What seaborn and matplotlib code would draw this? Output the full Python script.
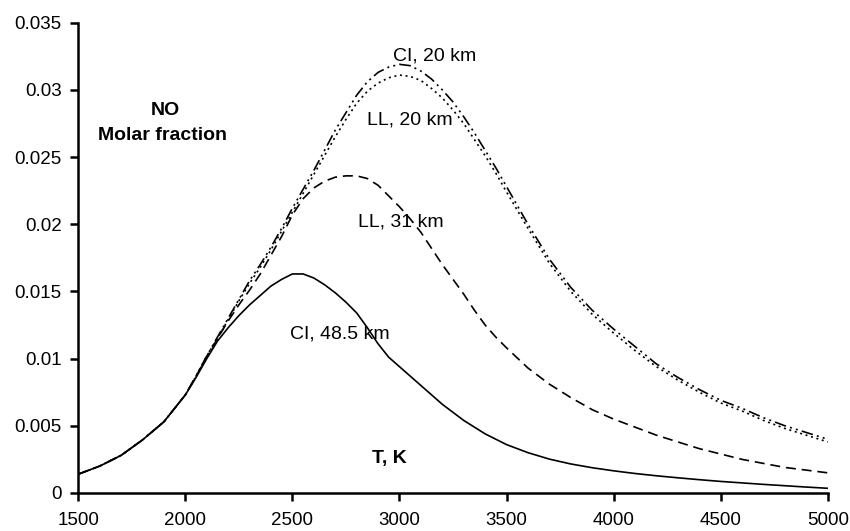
import matplotlib
matplotlib.use("Agg")
import matplotlib.pyplot as plt
import seaborn as sns
import pandas as pd

# Temperature grid, K (finer around the maxima)
temperature = [1500, 1600, 1700, 1800, 1900,
               2000, 2050, 2100, 2150, 2200, 2250, 2300, 2350, 2400, 2450,
               2500, 2550, 2600, 2650, 2700, 2750, 2800, 2850, 2900, 2950,
               3000, 3050, 3100, 3150, 3200, 3250, 3300, 3350, 3400, 3450,
               3500, 3600, 3700, 3800, 3900, 4000, 4100, 4200, 4300, 4400,
               4500, 4600, 4700, 4800, 4900, 5000]

# NO molar fraction for each case
ci_20 = [0.0014, 0.0020, 0.0028, 0.00395, 0.0053,
         0.0073, 0.0087, 0.0102, 0.0116, 0.0130, 0.0144, 0.0158, 0.0170, 0.0183, 0.0197,
         0.0212, 0.0226, 0.0240, 0.0255, 0.0270, 0.0283, 0.0296, 0.0306, 0.0313, 0.0317,
         0.0319, 0.0318, 0.0314, 0.0308, 0.0300, 0.0291, 0.0280, 0.0268, 0.0255, 0.0242,
         0.0228, 0.0200, 0.0174, 0.0153, 0.0136, 0.0122, 0.0109, 0.0096, 0.0086, 0.0077,
         0.0069, 0.0063, 0.0056, 0.0050, 0.0045, 0.0040]
ll_20 = [0.0014, 0.0020, 0.0028, 0.00395, 0.0053,
         0.0073, 0.0087, 0.0102, 0.0115, 0.0129, 0.0143, 0.0156, 0.0168, 0.0181, 0.0195,
         0.0209, 0.0223, 0.0237, 0.0251, 0.0265, 0.0278, 0.0290, 0.0299, 0.0305, 0.0309,
         0.0311, 0.0310, 0.0307, 0.0301, 0.0294, 0.0285, 0.0275, 0.0263, 0.0251, 0.0238,
         0.0224, 0.0197, 0.0171, 0.0150, 0.0133, 0.0119, 0.0106, 0.0094, 0.0084, 0.0075,
         0.0067, 0.0061, 0.0054, 0.0048, 0.0043, 0.0038]
ll_31 = [0.0014, 0.0020, 0.0028, 0.00395, 0.0053,
         0.0073, 0.0087, 0.0101, 0.0115, 0.0128, 0.0140, 0.0151, 0.0163, 0.0177, 0.0191,
         0.0207, 0.0219, 0.0227, 0.0232, 0.0235, 0.0236, 0.0236, 0.0234, 0.0229, 0.0221,
         0.0213, 0.0204, 0.0194, 0.0182, 0.0170, 0.0159, 0.0148, 0.0136, 0.0125, 0.0116,
         0.0108, 0.0093, 0.0081, 0.0071, 0.0062, 0.0055, 0.0049, 0.0043, 0.0038, 0.0033,
         0.0029, 0.0025, 0.0022, 0.0019, 0.0017, 0.0015]
ci_485 = [0.0014, 0.0020, 0.0028, 0.00395, 0.0053,
          0.0073, 0.0086, 0.0100, 0.0113, 0.0123, 0.0132, 0.0140, 0.0147, 0.0154, 0.0159,
          0.0163, 0.0163, 0.0160, 0.0155, 0.0149, 0.0142, 0.0134, 0.0123, 0.0111, 0.0101,
          0.0094, 0.0087, 0.0080, 0.0073, 0.0066, 0.0060, 0.0054, 0.0049, 0.0044, 0.0040,
          0.0036, 0.0030, 0.00252, 0.00216, 0.00188, 0.00165, 0.00145, 0.00128, 0.00113, 0.00099,
          0.00086, 0.00075, 0.00064, 0.00054, 0.00044, 0.00035]

x_ticks = [1500, 2000, 2500, 3000, 3500, 4000, 4500, 5000]
y_ticks = [0, 0.005, 0.01, 0.015, 0.02, 0.025, 0.03, 0.035]
y_tick_labels = ["0", "0.005", "0.01", "0.015", "0.02", "0.025", "0.03", "0.035"]

sns.set_style("ticks")
plt.rcParams["font.family"] = ["Liberation Sans", "DejaVu Sans"]

fig = plt.figure(figsize=(8.5, 5.31), dpi=100)
ax = fig.add_axes([0.0921, 0.0716, 0.8817, 0.8857])

series = [
    (ci_20, (0, (7, 2.5, 1.2, 2.5, 1.2, 2.5))),
    (ll_20, (0, (1.2, 2.2))),
    (ll_31, (0, (6, 3.5))),
    (ci_485, "-"),
]
for values, style in series:
    df = pd.DataFrame({"T": temperature, "x": values})
    sns.lineplot(data=df, x="T", y="x", ax=ax, color="black",
                 linewidth=1.2, linestyle=style)

ax.set_xlim(1500, 5000)
ax.set_ylim(0, 0.035)
ax.set_xticks(x_ticks)
ax.set_xticklabels([str(t) for t in x_ticks])
ax.set_yticks(y_ticks)
ax.set_yticklabels(y_tick_labels)
ax.set_xlabel("")
ax.set_ylabel("")

for side in ["top", "right"]:
    ax.spines[side].set_visible(False)
for side in ["left", "bottom"]:
    ax.spines[side].set_linewidth(1.8)
    ax.spines[side].set_color("black")
ax.tick_params(axis="both", direction="out", length=6, width=1.8,
               colors="black", labelsize=13.5)
ax.tick_params(axis="y", pad=6)
ax.tick_params(axis="x", pad=8)

label_kw = dict(ha="center", va="center", fontsize=14, color="black")
ax.text(3165, 0.0325, "CI, 20 km", **label_kw)
ax.text(3048, 0.02775, "LL, 20 km", **label_kw)
ax.text(3005, 0.0202, "LL, 31 km", **label_kw)
ax.text(2722, 0.0118, "CI, 48.5 km", **label_kw)
ax.text(1905, 0.0285, "NO", fontweight="bold", **label_kw)
ax.text(1895, 0.0266, "Molar fraction", fontweight="bold", **label_kw)
ax.text(2955, 0.0026, "T, K", fontweight="bold", **label_kw)

fig.savefig("out.png", dpi=100)
